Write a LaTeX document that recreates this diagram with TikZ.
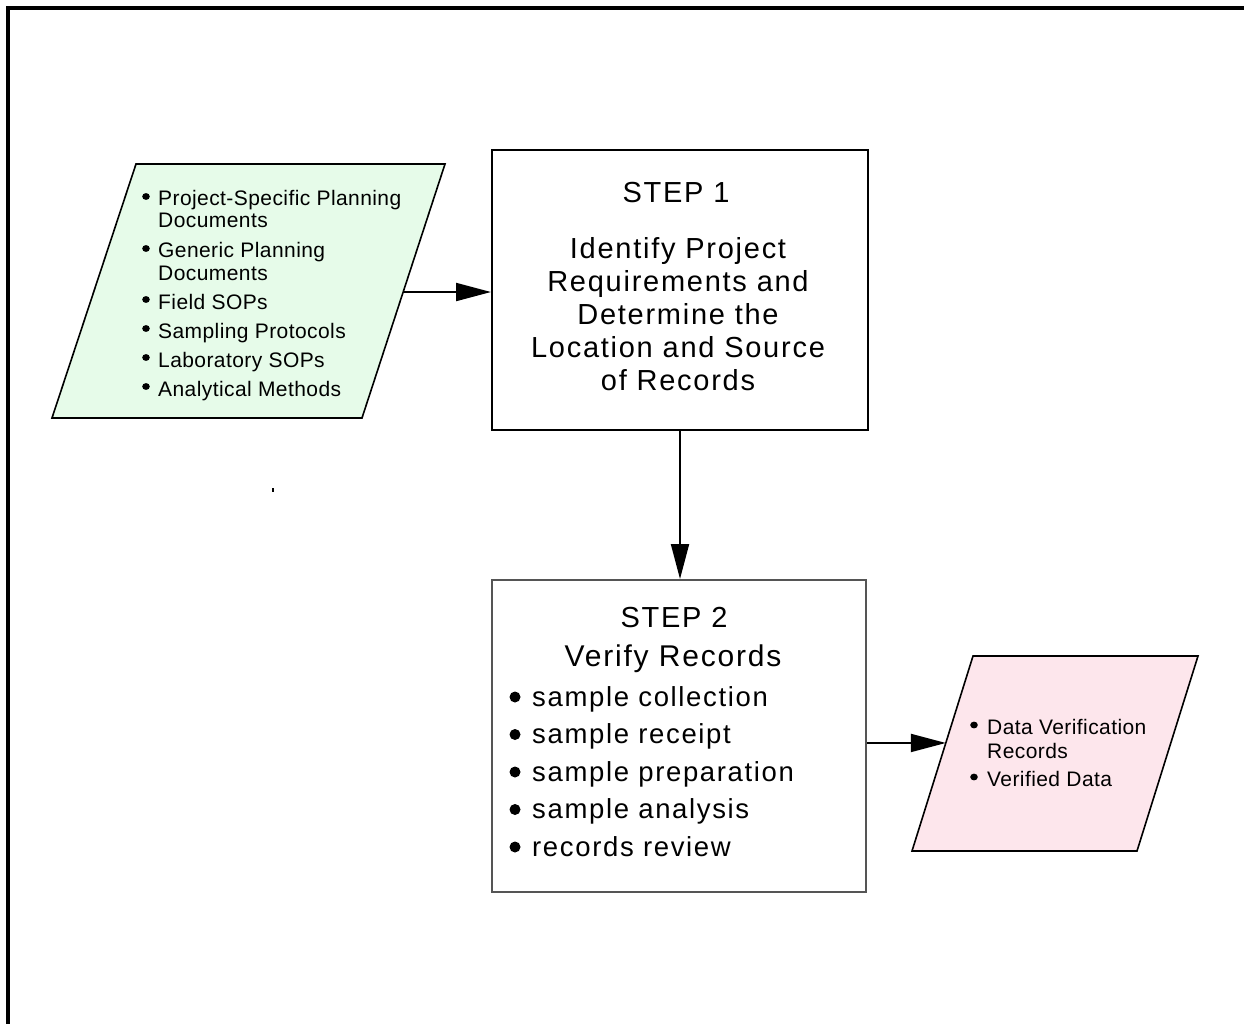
\documentclass[tikz,border=0pt]{standalone}
\usepackage{fontspec}
\setmainfont{Liberation Sans}
\newfontfamily\stepfont[LetterSpace=6]{Liberation Sans}
\newfontfamily\listfont[LetterSpace=2]{Liberation Sans}
\usetikzlibrary{arrows.meta,calc}
\definecolor{greenfill}{RGB}{230,251,233}
\definecolor{pinkfill}{RGB}{253,230,236}
\definecolor{boxgray}{RGB}{85,85,85}
\begin{document}
\begin{tikzpicture}[x=1pt,y=-1pt,
  stepbox/.style={draw,line width=2pt,inner sep=0pt},
  steptext/.style={font=\stepfont\fontsize{29}{33}\selectfont, inner sep=0pt},
  titletext/.style={font=\stepfont\fontsize{29}{33}\selectfont, inner sep=0pt},
  itemtext/.style={font=\stepfont\fontsize{27.5}{33}\selectfont, inner sep=0pt},
  smalltext/.style={font=\listfont\fontsize{21}{22}\selectfont, inner sep=0pt},
  conn/.style={line width=2pt, -{Triangle[length=35pt,width=18pt]}},
  datashape/.style={draw, line width=1.6pt, line join=miter},
  bigdot/.style={fill=black},
]
\useasboundingbox (0,0) rectangle (1244,1024);
% frame
\draw[line width=4pt, line join=miter] (8,1040) -- (8,8) -- (1260,8);

% step boxes
\node[stepbox, minimum width=376pt, minimum height=280pt] (s1) at (680,290) {};
\node[stepbox, draw=boxgray, minimum width=374pt, minimum height=312pt] (s2) at (679,736) {};

% step 1 text
\node[titletext, anchor=base] (s1t) at (676,203) {STEP 1};
\node[steptext, anchor=base] (s1l1) at (678,258.5) {Identify Project};
\node[steptext, anchor=base] (s1l2) at (678,291.5) {Requirements and};
\node[steptext, anchor=base] (s1l3) at (678,324.5) {Determine the};
\node[steptext, anchor=base] (s1l4) at (678,357.5) {Location and Source};
\node[steptext, anchor=base] (s1l5) at (678,390.5) {of Records};

% step 2 text
\node[titletext, anchor=base] (s2t) at (674,627) {STEP 2};
\node[titletext, font=\stepfont\fontsize{30}{33}\selectfont, anchor=base] (s2v) at (673,666) {Verify Records};
\foreach \t [count=\i] in {sample collection, sample receipt, sample preparation, sample analysis, records review}{
  \node[itemtext, anchor=base west] (v\i) at (532,{706+37.5*(\i-1)}) {\t};
  \fill[bigdot] ([shift={(-17,-9)}]v\i.base west) circle (5.5pt);
}

% green input parallelogram
\coordinate (g1) at (136,164);
\coordinate (g2) at (445,164);
\coordinate (g3) at (362,418);
\coordinate (g4) at (52,418);
\draw[datashape, fill=greenfill] (g1) -- (g2) -- (g3) -- (g4) -- cycle;
\node[smalltext, anchor=base west] (gl1) at (158,206) {Project-Specific Planning};
\node[smalltext, anchor=base west] (gl2) at (158,228) {Documents};
\node[smalltext, anchor=base west] (gl3) at (158,258) {Generic Planning};
\node[smalltext, anchor=base west] (gl4) at (158,280) {Documents};
\node[smalltext, anchor=base west] (gl5) at (158,309) {Field SOPs};
\node[smalltext, anchor=base west] (gl6) at (158,338) {Sampling Protocols};
\node[smalltext, anchor=base west] (gl7) at (158,367) {Laboratory SOPs};
\node[smalltext, anchor=base west] (gl8) at (158,396) {Analytical Methods};
\foreach \n in {gl1,gl3,gl5,gl6,gl7,gl8}{
  \fill[bigdot] ([shift={(-12,-9.5)}]\n.base west) ellipse (3.8pt and 3.4pt);
}

% pink output parallelogram
\coordinate (p1) at (973,656);
\coordinate (p2) at (1198,656);
\coordinate (p3) at (1137,851);
\coordinate (p4) at (912,851);
\draw[datashape, fill=pinkfill] (p1) -- (p2) -- (p3) -- (p4) -- cycle;
\node[smalltext, anchor=base west] (pl1) at (987,734) {Data Verification};
\node[smalltext, anchor=base west] (pl2) at (987,758) {Records};
\node[smalltext, anchor=base west] (pl3) at (987,786) {Verified Data};
\foreach \n in {pl1,pl3}{
  \fill[bigdot] ([shift={(-13,-9)}]\n.base west) ellipse (3.8pt and 3.4pt);
}

% stray mark
\fill (272,488) rectangle (274,492);

% connectors
\coordinate (gout) at ($(g2)!0.504!(g3)$);
\coordinate (pin) at ($(p1)!0.446!(p4)$);
\draw[conn] (gout) -- (gout -| s1.west);
\draw[conn] (s1.south) -- (s1.south |- s2.north);
\draw[conn] (pin -| s2.east) -- (pin);
\end{tikzpicture}
\end{document}
